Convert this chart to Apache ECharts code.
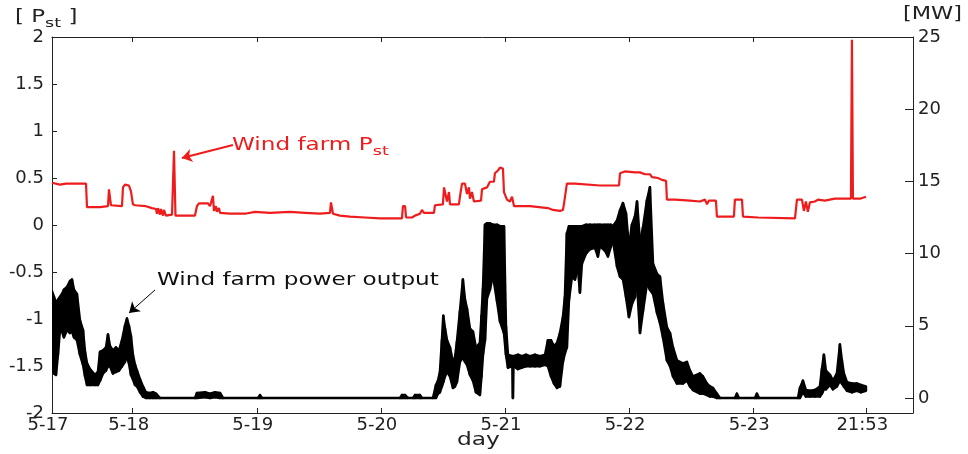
<!DOCTYPE html>
<html>
<head>
<meta charset="UTF-8" />
<title>Wind farm Pst and power output</title>
<style>
    html, body { margin: 0; padding: 0; background: #fff; }
    #chart { width: 968px; height: 454px; }
</style>
</head>
<body>
<div id="chart"></div>
<script src="https://cdn.jsdelivr.net/npm/echarts@6/dist/echarts.min.js"></script>
<script>
// x is time in days counted from 5-17 00:00
const dayTicks = [0.35, 1, 2, 3, 4, 5, 6, 6.912];
const dayLabels = ["5-17", "5-18", "5-19", "5-20", "5-21", "5-22", "5-23", "21:53"];
const topTicks = [1, 2, 3, 4, 5, 6];
const mwTicks = [0, 5, 10, 15, 20, 25];

// wind farm Pst (left axis): [day, Pst]
const pstData = [
    [0.350, 0.45], [0.414, 0.43], [0.463, 0.44], [0.624, 0.44], [0.632, 0.19], [0.737, 0.19], [0.801, 0.20],
    [0.809, 0.38], [0.817, 0.38], [0.825, 0.21], [0.841, 0.20], [0.914, 0.20], [0.922, 0.40], [0.938, 0.43],
    [0.970, 0.42], [0.986, 0.36], [1.002, 0.22], [1.019, 0.21], [1.107, 0.20], [1.156, 0.18], [1.188, 0.17],
    [1.196, 0.12], [1.204, 0.18], [1.220, 0.11], [1.228, 0.17], [1.244, 0.10], [1.252, 0.16], [1.268, 0.10],
    [1.276, 0.11], [1.317, 0.11], [1.329, 0.11], [1.333, 0.79], [1.341, 0.79], [1.345, 0.10], [1.357, 0.10],
    [1.502, 0.10], [1.518, 0.20], [1.534, 0.23], [1.607, 0.23], [1.623, 0.20], [1.639, 0.18], [1.647, 0.31],
    [1.655, 0.15], [1.671, 0.20], [1.679, 0.14], [1.695, 0.18], [1.704, 0.13], [1.720, 0.13], [1.784, 0.12],
    [1.905, 0.12], [1.986, 0.14], [2.106, 0.13], [2.268, 0.14], [2.389, 0.13], [2.509, 0.12], [2.590, 0.13],
    [2.598, 0.24], [2.606, 0.24], [2.614, 0.12], [2.670, 0.10], [2.751, 0.09], [2.872, 0.08], [2.993, 0.07],
    [3.170, 0.07], [3.178, 0.20], [3.195, 0.20], [3.203, 0.08], [3.251, 0.08], [3.275, 0.10], [3.315, 0.12],
    [3.331, 0.16], [3.347, 0.13], [3.428, 0.13], [3.436, 0.21], [3.500, 0.22], [3.509, 0.40], [3.525, 0.38],
    [3.533, 0.25], [3.549, 0.35], [3.557, 0.22], [3.629, 0.22], [3.637, 0.30], [3.654, 0.44], [3.678, 0.44],
    [3.694, 0.33], [3.710, 0.40], [3.718, 0.28], [3.734, 0.35], [3.750, 0.25], [3.807, 0.26], [3.815, 0.38],
    [3.855, 0.40], [3.879, 0.46], [3.911, 0.46], [3.919, 0.55], [3.944, 0.58], [3.960, 0.61], [3.984, 0.60],
    [3.992, 0.35], [4.008, 0.36], [4.016, 0.27], [4.040, 0.25], [4.057, 0.30], [4.073, 0.20], [4.089, 0.19],
    [4.202, 0.20], [4.346, 0.18], [4.387, 0.16], [4.443, 0.15], [4.467, 0.16], [4.475, 0.22], [4.491, 0.24],
    [4.499, 0.44], [4.564, 0.44], [4.765, 0.42], [4.919, 0.42], [4.927, 0.55], [4.967, 0.57], [5.048, 0.56],
    [5.088, 0.56], [5.128, 0.54], [5.168, 0.54], [5.185, 0.51], [5.233, 0.50], [5.265, 0.48], [5.298, 0.47],
    [5.305, 0.27], [5.370, 0.27], [5.491, 0.26], [5.571, 0.25], [5.612, 0.27], [5.628, 0.22], [5.644, 0.26],
    [5.700, 0.26], [5.708, 0.09], [5.845, 0.09], [5.853, 0.27], [5.910, 0.27], [5.918, 0.09], [6.039, 0.08],
    [6.055, 0.07], [6.337, 0.07], [6.353, 0.27], [6.393, 0.27], [6.409, 0.15], [6.425, 0.25], [6.441, 0.14],
    [6.457, 0.24], [6.498, 0.25], [6.522, 0.27], [6.578, 0.26], [6.659, 0.28], [6.788, 0.28], [6.796, 1.97],
    [6.800, 1.97], [6.804, 0.28], [6.861, 0.28], [6.909, 0.30]
];

// wind farm power output (right axis, MW), noisy trace read as envelope: [day, high, low]
const powerBand = [
    [0.350, 7.4, 2.6], [0.366, 7.0, 1.7], [0.382, 6.6, 1.6], [0.398, 6.8, 3.0], [0.414, 7.0, 4.7], [0.430, 7.2, 4.6],
    [0.446, 7.5, 4.2], [0.471, 7.7, 4.7], [0.495, 8.1, 4.5], [0.511, 8.2, 4.6], [0.527, 7.5, 4.2], [0.551, 7.2, 4.0],
    [0.575, 5.4, 3.0], [0.600, 4.7, 2.3], [0.616, 3.2, 1.5], [0.632, 2.4, 0.9], [0.656, 2.0, 0.9], [0.696, 1.6, 0.9],
    [0.720, 1.8, 0.9], [0.737, 3.2, 1.2], [0.761, 3.3, 1.7], [0.785, 3.5, 1.9], [0.801, 4.4, 2.2], [0.817, 3.6, 2.2],
    [0.841, 3.3, 1.7], [0.865, 3.5, 1.8], [0.890, 3.3, 1.9], [0.914, 4.0, 2.2], [0.938, 5.0, 2.5], [0.954, 5.5, 2.9],
    [0.970, 5.0, 2.4], [0.986, 4.3, 1.6], [1.002, 3.0, 1.3], [1.019, 2.3, 0.9], [1.035, 1.9, 0.8], [1.059, 1.3, 0.4],
    [1.083, 0.8, 0.1], [1.107, 0.4, 0], [1.139, 0.35, 0], [1.164, 0.4, 0], [1.188, 0.3, 0], [1.220, 0, 0],
    [1.502, 0, 0], [1.518, 0.35, 0], [1.583, 0.4, 0.05], [1.623, 0.3, 0], [1.663, 0.4, 0.05], [1.704, 0.35, 0],
    [1.728, 0, 0], [2.010, 0, 0], [2.026, 0.2, 0], [2.042, 0, 0],
    [3.154, 0, 0], [3.170, 0.2, 0], [3.195, 0.2, 0], [3.218, 0, 0], [3.259, 0, 0], [3.275, 0.2, 0], [3.315, 0.2, 0],
    [3.331, 0, 0], [3.420, 0, 0], [3.444, 0.9, 0], [3.460, 1.2, 0.3], [3.476, 1.8, 0.4], [3.492, 4.0, 0.8],
    [3.503, 5.7, 1.1], [3.517, 4.8, 1.5], [3.533, 4.0, 1.8], [3.557, 3.5, 1.5], [3.581, 2.5, 0.7], [3.597, 2.8, 0.8],
    [3.613, 3.9, 1.1], [3.637, 6.0, 2.5], [3.661, 8.2, 2.8], [3.678, 6.8, 2.5], [3.694, 6.2, 2.3], [3.718, 4.8, 1.6],
    [3.742, 4.6, 1.2], [3.766, 3.5, 0.4], [3.798, 3.8, 0.2], [3.811, 5.7, 1.5], [3.823, 7.6, 3.0], [3.839, 12.0, 4.0],
    [3.855, 12.1, 6.9], [3.879, 12.1, 7.5], [3.903, 12.0, 8.5], [3.936, 12.0, 6.7], [3.960, 11.9, 5.3],
    [3.992, 11.9, 4.5], [4.008, 5.0, 3.0], [4.024, 3.0, 2.1], [4.060, 2.9, 2.2], [4.064, 2.8, 0], [4.068, 2.9, 2.2],
    [4.105, 3.0, 2.0], [4.137, 2.9, 2.1], [4.169, 3.0, 2.2], [4.202, 2.9, 2.2], [4.242, 3.0, 2.2], [4.282, 2.9, 2.2],
    [4.323, 3.0, 2.3], [4.346, 4.0, 2.2], [4.371, 4.0, 1.5], [4.395, 3.6, 1.0], [4.419, 3.8, 0.7], [4.443, 4.5, 0.8],
    [4.467, 5.6, 2.5], [4.483, 7.0, 3.1], [4.499, 11.4, 3.5], [4.516, 11.9, 6.8], [4.540, 11.9, 8.4],
    [4.564, 11.9, 8.2], [4.588, 11.9, 9.0], [4.604, 11.9, 7.3], [4.620, 11.9, 9.3], [4.653, 12.0, 10.0],
    [4.685, 12.0, 10.3], [4.725, 12.0, 10.4], [4.749, 12.0, 9.8], [4.765, 12.0, 10.5], [4.806, 12.0, 10.2],
    [4.830, 12.0, 9.8], [4.854, 12.0, 10.5], [4.870, 11.9, 10.9], [4.903, 12.3, 9.1], [4.927, 13.0, 8.4],
    [4.951, 13.5, 8.2], [4.975, 12.8, 7.0], [4.999, 10.5, 5.6], [5.023, 12.0, 6.5], [5.048, 12.6, 7.0],
    [5.064, 13.6, 7.9], [5.088, 10.8, 4.5], [5.112, 11.8, 6.0], [5.144, 13.7, 7.9], [5.168, 14.6, 7.5],
    [5.193, 9.3, 7.2], [5.225, 8.6, 5.9], [5.249, 8.4, 5.2], [5.273, 6.6, 4.2], [5.305, 4.9, 2.6], [5.330, 4.5, 2.2],
    [5.354, 3.5, 1.5], [5.386, 2.6, 1.0], [5.434, 2.4, 1.0], [5.466, 2.5, 1.2], [5.491, 1.9, 0.8], [5.515, 1.5, 0.55],
    [5.571, 1.7, 0.3], [5.595, 1.5, 0.3], [5.628, 1.0, 0.2], [5.652, 0.8, 0.1], [5.676, 0.7, 0.1], [5.708, 0.3, 0],
    [5.732, 0, 0], [5.853, 0, 0], [5.869, 0.3, 0], [5.885, 0, 0], [6.014, 0, 0], [6.030, 0.3, 0], [6.047, 0, 0],
    [6.361, 0, 0], [6.377, 0.7, 0], [6.401, 1.2, 0.4], [6.425, 0.55, 0.1], [6.457, 0.5, 0.1], [6.498, 0.55, 0.1],
    [6.538, 0.8, 0.1], [6.554, 2.0, 0.3], [6.570, 3.0, 0.6], [6.586, 1.9, 0.6], [6.619, 1.6, 0.9], [6.643, 1.2, 0.6],
    [6.675, 1.7, 0.8], [6.699, 3.7, 1.2], [6.715, 2.6, 1.0], [6.731, 1.7, 0.8], [6.756, 1.1, 0.5], [6.796, 1.0, 0.4],
    [6.836, 1.0, 0.5], [6.868, 0.9, 0.4], [6.909, 0.8, 0.5]
];

const chart = echarts.init(document.getElementById("chart"));
const font = "DejaVu Sans";
const axisColor = "#222";
const red = "#ee1c1c";

function dayLabel(v) {
    const i = dayTicks.findIndex((t) => Math.abs(t - v) < 1e-6);
    return i >= 0 ? dayLabels[i] : "";
}

// one quad between neighbouring envelope samples
function renderBand(params, api) {
    const i = params.dataIndexInside;
    if (i >= params.dataInsideLength - 1) return null;
    const p1 = api.coord([api.value(0, i), api.value(1, i)]);
    const p2 = api.coord([api.value(0, i + 1), api.value(1, i + 1)]);
    const p3 = api.coord([api.value(0, i + 1), api.value(2, i + 1)]);
    const p4 = api.coord([api.value(0, i), api.value(2, i)]);
    return {
        type: "polygon",
        shape: { points: [p1, p2, p3, p4] },
        style: { fill: "#000", stroke: "#000", lineWidth: 2.5, lineJoin: "round" },
    };
}

const axisLine = { show: true, onZero: false, lineStyle: { color: axisColor, width: 1 } };

const option = {
    animation: false,
    grid: { left: 52, right: 55, top: 37, bottom: 41 },
    xAxis: [
        {
            type: "value",
            min: 0.35,
            max: 7.288,
            axisLine: axisLine,
            splitLine: { show: false },
            axisTick: { inside: true, length: 5, customValues: dayTicks, lineStyle: { color: axisColor } },
            axisLabel: {
                customValues: dayTicks,
                formatter: dayLabel,
                fontFamily: font,
                fontSize: 18,
                color: "#222",
                margin: 3,
                padding: [0, 8, 0, 0],
            },
        },
        {
            type: "value",
            position: "top",
            min: 0.35,
            max: 7.288,
            axisLine: axisLine,
            splitLine: { show: false },
            axisTick: { inside: true, length: 5, customValues: topTicks, lineStyle: { color: axisColor } },
            axisLabel: { show: false },
        },
    ],
    yAxis: [
        {
            type: "value",
            min: -2,
            max: 2,
            interval: 0.5,
            position: "left",
            axisLine: axisLine,
            splitLine: { show: false },
            axisTick: { inside: true, length: 5, lineStyle: { color: axisColor } },
            axisLabel: { fontFamily: font, fontSize: 18, color: "#222", margin: 8 },
        },
        {
            type: "value",
            min: -1.04,
            max: 25,
            position: "right",
            axisLine: axisLine,
            splitLine: { show: false },
            axisTick: { inside: true, length: 8, customValues: mwTicks, lineStyle: { color: axisColor } },
            axisLabel: { customValues: mwTicks, fontFamily: font, fontSize: 18, color: "#222", margin: 5 },
        },
    ],
    series: [
        {
            name: "Wind farm power output",
            type: "custom",
            xAxisIndex: 0,
            yAxisIndex: 1,
            clip: true,
            renderItem: renderBand,
            encode: { x: 0, y: [1, 2] },
            data: powerBand,
            z: 2,
        },
        {
            name: "Wind farm Pst",
            type: "line",
            xAxisIndex: 0,
            yAxisIndex: 0,
            data: pstData,
            showSymbol: false,
            lineStyle: { color: red, width: 2.2 },
            itemStyle: { color: red },
            z: 3,
            markLine: {
                silent: true,
                symbol: ["none", "arrow"],
                symbolSize: 10,
                label: { show: false },
                data: [
                    [
                        { coord: [1.808, 0.851], lineStyle: { color: red, width: 2, type: "solid" } },
                        { coord: [1.397, 0.713] },
                    ],
                    [
                        { coord: [1.180, -0.691], lineStyle: { color: "#000", width: 1, type: "solid" } },
                        { coord: [0.971, -0.936] },
                    ],
                ],
            },
        },
    ],
    graphic: [
        {
            type: "text",
            x: 15,
            y: 18,
            scaleX: 1.35,
            style: {
                text: "[ P{s|st} ]",
                font: "17px " + font,
                fill: "#222",
                verticalAlign: "middle",
                rich: { s: { fontSize: 13, fontFamily: font, padding: [11, 0, 0, 0] } },
            },
        },
        {
            type: "text",
            x: 903,
            y: 15,
            scaleX: 1.32,
            style: { text: "[MW]", font: "17px " + font, fill: "#222", verticalAlign: "middle" },
        },
        {
            type: "text",
            x: 457,
            y: 441,
            scaleX: 1.37,
            style: { text: "day", font: "17px " + font, fill: "#222", verticalAlign: "middle" },
        },
        {
            type: "text",
            x: 232,
            y: 146,
            scaleX: 1.36,
            style: {
                text: "Wind farm P{s|st}",
                font: "17px " + font,
                fill: red,
                verticalAlign: "middle",
                rich: { s: { fontSize: 13, fontFamily: font, padding: [11, 0, 0, 0] } },
            },
        },
        {
            type: "text",
            x: 157,
            y: 281,
            scaleX: 1.36,
            style: { text: "Wind farm power output", font: "17px " + font, fill: "#111", verticalAlign: "middle" },
        },
    ],
};

chart.setOption(option);
</script>
</body>
</html>
